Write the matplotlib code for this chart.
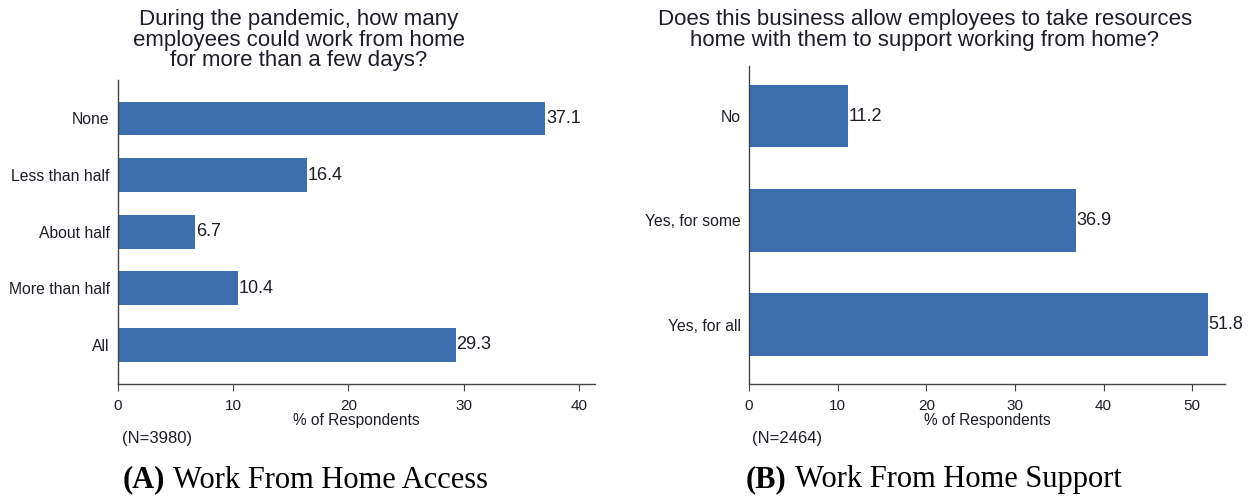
import matplotlib
matplotlib.use("Agg")
import matplotlib.pyplot as plt

# Data
cats_a = ["None", "Less than half", "About half", "More than half", "All"]
vals_a = [37.1, 16.4, 6.7, 10.4, 29.3]
cats_b = ["No", "Yes, for some", "Yes, for all"]
vals_b = [11.2, 36.9, 51.8]
ticks_a = [0, 10, 20, 30, 40]
ticks_b = [0, 10, 20, 30, 40, 50]

title_a = "During the pandemic, how many\nemployees could work from home\nfor more than a few days?"
title_b = "Does this business allow employees to take resources\nhome with them to support working from home?"
xlabel = "% of Respondents"
note_a = "(N=3980)"
note_b = "(N=2464)"
cap_a = ("(A)", "Work From Home Access")
cap_b = ("(B)", "Work From Home Support")

plt.rcParams['font.family'] = ['Liberation Sans', 'DejaVu Sans']
BAR = '#3d6ead'
TXT = '#1e1e28'
SP = '#444444'

W, H = 1255, 500
fig = plt.figure(figsize=(W / 100, H / 100), dpi=100)


def mk_axes(l, r, t, b):
    return fig.add_axes([l / W, 1 - b / H, (r - l) / W, (b - t) / H])


def draw(ax, cats, vals, ticks, xmax, ylim):
    y = list(range(len(cats)))
    ax.barh(y, vals, height=0.6, color=BAR)
    ax.set_yticks(y)
    ax.set_yticklabels(cats, fontsize=11.3, color=TXT)
    ax.set_xticks(ticks)
    ax.set_xticklabels([str(t) for t in ticks], fontsize=11, color=TXT)
    ax.set_xlim(0, xmax)
    ax.set_ylim(*ylim)
    for yi, v in zip(y, vals):
        ax.text(v + 0.05, yi, f"{v:.1f}", va='center', ha='left', fontsize=13, color=TXT)
    for s in ['top', 'right']:
        ax.spines[s].set_visible(False)
    for s in ['left', 'bottom']:
        ax.spines[s].set_color(SP)
        ax.spines[s].set_linewidth(1.0)
    ax.tick_params(axis='y', length=0, pad=6)
    ax.tick_params(axis='x', length=5, color=SP, pad=6)
    ax.set_xlabel(xlabel, fontsize=11.2, color=TXT, labelpad=0)


ax1 = mk_axes(118, 595, 80, 384)
draw(ax1, cats_a, vals_a, ticks_a, 41.4, (4.69, -0.68))
ax2 = mk_axes(749, 1225, 66, 384)
draw(ax2, cats_b, vals_b, ticks_b, 53.7, (2.57, -0.48))

fig.text(299 / W, 1 - 9 / H, title_a, ha='center', va='top', fontsize=16,
         color=TXT, linespacing=0.98)
fig.text(925 / W, 1 - 9 / H, title_b, ha='center', va='top', fontsize=16,
         color=TXT, linespacing=0.98)

fig.text(122 / W, 1 - 439 / H, note_a, ha='left', va='center', fontsize=12, color=TXT)
fig.text(752 / W, 1 - 439 / H, note_b, ha='left', va='center', fontsize=12, color=TXT)

for (lab, txt), x0 in [(cap_a, 123), (cap_b, 746)]:
    t1 = fig.text(x0 / W, 1 - 480 / H, lab, ha='left', va='center', fontsize=22,
                  family=['Liberation Serif', 'DejaVu Serif'], weight='bold', color='black')
    fig.canvas.draw()
    bb = t1.get_window_extent()
    fig.text((bb.x1 + 8) / W, 1 - 480 / H, txt, ha='left', va='center', fontsize=22,
             family=['Liberation Serif', 'DejaVu Serif'], color='black')

fig.savefig('out.png', dpi=100, facecolor='white')
